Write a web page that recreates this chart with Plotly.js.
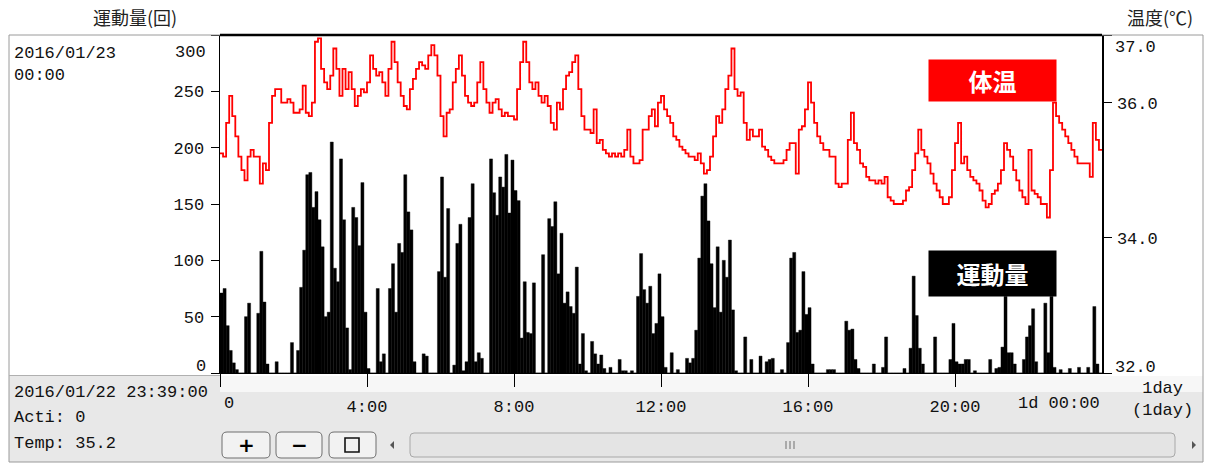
<!DOCTYPE html>
<html><head><meta charset="utf-8">
<script src="https://cdn.plot.ly/plotly-3.0.1.min.js"></script>
<style>html,body{margin:0;padding:0;background:#fff;overflow:hidden}#chart{width:1209px;height:464px}</style>
</head><body><div id="chart"></div>
<script>
// ---- data ----
const STEP_MIN = 5; // sampling interval, minutes
const activity = [
71,75,42,20,9,3,0,0,50,62, 0,0,53,108,63,8,0,0,10,0,
0,0,0,27,0,20,76,109,176,178, 147,161,136,112,50,54,205,93,81,190,
136,40,3,147,138,113,169,54,4,0, 0,75,10,17,0,75,97,54,115,107,
176,143,127,10,0,0,17,15,0,0, 0,90,174,85,146,0,7,115,132,2,
10,138,168,10,18,13,0,0,190,160, 140,174,165,194,142,189,162,153,31,81,
36,35,80,0,0,105,0,137,130,152, 88,124,62,72,59,53,94,8,35,2,
0,28,17,8,16,4,0,5,0,0, 12,2,2,0,2,0,68,106,74,62,
77,35,44,88,50,5,0,18,0,3, 0,0,13,9,13,38,102,157,168,135,
97,58,112,54,100,85,118,56,2,0, 0,32,0,12,0,0,15,0,10,12,
13,0,0,3,0,27,102,107,36,38, 90,52,58,8,0,0,0,0,3,3,
3,0,0,0,46,38,39,12,4,0, 0,0,0,8,0,0,5,32,0,0,
0,0,0,4,0,22,86,51,22,8, 0,0,0,32,0,0,0,0,12,44,
10,8,8,12,12,0,2,0,0,0, 0,12,0,4,5,23,68,18,18,8,
0,0,12,32,42,57,10,0,0,62, 18,68,5,0,3,0,0,4,0,0,
5,0,0,5,0,59,8,0
];
const temperature = [
35.25,35.2,35.7,36.1,35.8,35.5,35.2,35.0,34.85,35.2,
35.3,35.2,35.2,34.8,35.1,35.0,35.7,36.1,36.2,36.2,
36.0,36.0,36.05,36.0,35.85,35.85,35.9,36.25,35.85,35.8,
36.0,36.9,36.95,36.5,36.3,36.2,36.4,36.8,36.5,36.1,
36.5,36.2,36.45,36.2,35.95,36.1,36.2,36.15,36.3,36.7,
36.5,36.4,36.45,36.3,36.1,36.5,36.9,36.6,36.3,36.1,
35.95,35.9,36.2,36.35,36.5,36.6,36.55,36.5,36.7,36.85,
36.7,36.4,35.8,35.5,35.85,35.9,36.3,36.5,36.7,36.4,
36.1,36.0,35.95,36.0,36.3,36.6,36.2,36.0,35.85,36.0,
36.05,35.9,35.8,35.85,35.8,35.8,35.75,36.2,36.6,36.9,
36.6,36.3,36.2,36.3,36.1,36.0,36.1,35.95,35.7,35.6,
36.0,35.9,36.2,36.4,36.45,36.6,36.7,36.2,35.8,35.6,
35.6,35.55,35.9,35.4,35.45,35.3,35.25,35.2,35.25,35.2,
35.25,35.2,35.3,35.6,35.2,35.1,35.1,35.15,35.6,35.6,
35.8,35.9,35.65,36.0,36.1,35.9,35.8,35.7,35.5,35.45,
35.35,35.3,35.25,35.2,35.2,35.15,35.25,35.1,34.95,35.0,
35.2,35.5,35.8,35.7,35.9,36.2,36.4,36.8,36.2,36.1,
36.15,35.7,35.45,35.6,35.5,35.5,35.6,35.35,35.3,35.2,
35.15,35.1,35.1,35.1,35.15,35.3,35.4,35.4,34.95,35.6,
35.65,35.9,36.3,36.0,35.7,35.5,35.4,35.3,35.3,35.2,
35.2,34.8,34.75,34.8,34.8,35.45,35.85,35.4,35.3,35.1,
35.05,34.9,34.85,34.85,34.8,34.85,34.8,34.9,34.6,34.55,
34.5,34.5,34.5,34.55,34.7,34.75,35.0,35.25,35.6,35.3,
35.2,35.1,34.95,34.8,34.7,34.6,34.5,34.5,34.6,35.0,
35.4,35.7,35.1,35.2,35.0,34.9,34.85,34.8,34.7,34.55,
34.45,34.5,34.65,34.7,34.8,35.0,35.4,35.3,35.2,35.0,
34.85,34.7,34.6,34.5,35.3,34.7,34.65,34.6,34.5,34.5,
34.3,35.0,36.0,35.8,35.7,35.6,35.5,35.4,35.3,35.2,
35.1,35.1,35.1,35.1,34.9,35.7,35.45,35.3,35.3
];
const xTickVals = [0,240,480,720,960,1200];
const xTickText = ['', '4:00', '8:00', '12:00', '16:00', '20:00'];
const actTickVals = [0,50,100,150,200,250,300];
const actTickText = ['', '50', '100', '150', '200', '250', ''];
const tempTickVals = [32,34,36,37];
const tempTickText = ['', '34.0', '36.0', ''];
const actTitle = '運動量(回)';
const tempTitle = '温度(℃)';
const legendTemp = '体温';
const legendAct = '運動量';
const dateTop = '2016/01/23<br>00:00';
const cursorTime = '2016/01/22 23:39:00';
const cursorActi = 'Acti: 0';
const cursorTemp = 'Temp: 35.2';
const endLabel = '1d 00:00';
const spanLabel = '1day<br>(1day)';

// ---- build ----
const actX = activity.map((_, i) => i * STEP_MIN + STEP_MIN / 2);
const tempX = temperature.map((_, i) => i * STEP_MIN);

// pixel -> paper helpers (plot area: x 220..1102, y 35..373)
const L = 220, R = 1102, T = 35, B = 373;
const px = x => (x - L) / (R - L);
const py = y => (B - y) / (B - T);
function rect(x0, y0, x1, y1, fill, line, lw, layer) {
  return {type:'rect', xref:'paper', yref:'paper', x0:px(x0), x1:px(x1), y0:py(y1), y1:py(y0),
    fillcolor:fill, line:{color:line||'rgba(0,0,0,0)', width:lw||0}, layer:layer||'below'};
}
function lineS(x0, y0, x1, y1, color, w, layer) {
  return {type:'line', xref:'paper', yref:'paper', x0:px(x0), x1:px(x1), y0:py(y0), y1:py(y1),
    line:{color:color, width:w}, layer:layer||'above'};
}
function rrect(x0, y0, x1, y1, r, fill, line) {
  const X = v => px(v), Y = v => py(v);
  const p = `M ${X(x0+r)} ${Y(y0)} L ${X(x1-r)} ${Y(y0)} Q ${X(x1)} ${Y(y0)} ${X(x1)} ${Y(y0+r)} ` +
    `L ${X(x1)} ${Y(y1-r)} Q ${X(x1)} ${Y(y1)} ${X(x1-r)} ${Y(y1)} L ${X(x0+r)} ${Y(y1)} ` +
    `Q ${X(x0)} ${Y(y1)} ${X(x0)} ${Y(y1-r)} L ${X(x0)} ${Y(y0+r)} Q ${X(x0)} ${Y(y0)} ${X(x0+r)} ${Y(y0)} Z`;
  return {type:'path', xref:'paper', yref:'paper', path:p, fillcolor:fill, line:{color:line, width:1}, layer:'above'};
}
const MONO = '"Liberation Mono", "DejaVu Sans Mono", monospace';
const CJK = '"Noto Sans CJK JP", sans-serif';
function txt(x, y, text, opts) {
  return Object.assign({xref:'paper', yref:'paper', x:px(x), y:py(y), text:text, showarrow:false,
    xanchor:'left', yanchor:'middle', align:'left', font:{family:MONO, size:17, color:'#111'}}, opts||{});
}

const shapes = [
  // bottom grey panel
  rect(9, 376, 1203, 462, '#e8e8e8'),
  rect(220, 376, 1203, 392, '#f7f7f7'),
  // frame
  lineS(9, 35, 220, 35, '#9a9a9a', 1),
  lineS(1102, 35, 1203, 35, '#9a9a9a', 1),
  lineS(9, 35, 9, 462, '#9a9a9a', 1),
  lineS(1203, 35, 1203, 462, '#9a9a9a', 1),
  lineS(9, 462, 1203, 462, '#9a9a9a', 1),
  lineS(9, 375.5, 220, 375.5, '#b0b0b0', 1),
  lineS(220, 35, 1102, 35, '#000', 2.5),
  // buttons
  rrect(222, 432, 270, 458, 5, '#f2f2f2', '#6e6e6e'),
  rrect(276, 432, 322, 458, 5, '#f2f2f2', '#6e6e6e'),
  rrect(329, 432, 376, 458, 5, '#f2f2f2', '#6e6e6e'),
  rect(345, 438, 359, 452, 'rgba(0,0,0,0)', '#111', 1.6, 'above'),
  // scrollbar
  rrect(410, 433, 1175, 457, 4, '#e4e4e4', '#a8a8a8'),
  lineS(786, 441, 786, 449, '#707070', 1),
  lineS(790, 441, 790, 449, '#707070', 1),
  lineS(794, 441, 794, 449, '#707070', 1),
  {type:'path', xref:'paper', yref:'paper', fillcolor:'#555', line:{width:0}, layer:'above',
   path:`M ${px(390)} ${py(445)} L ${px(394)} ${py(441)} L ${px(394)} ${py(449)} Z`},
  {type:'path', xref:'paper', yref:'paper', fillcolor:'#555', line:{width:0}, layer:'above',
   path:`M ${px(1196)} ${py(445)} L ${px(1192)} ${py(441)} L ${px(1192)} ${py(449)} Z`}
];

const annotations = [
  txt(135, 17, actTitle, {xanchor:'center', font:{family:CJK, size:18, color:'#222'}}),
  txt(1160, 17, tempTitle, {xanchor:'center', font:{family:CJK, size:18, color:'#222'}}),
  txt(12, 64, dateTop),
  txt(208, 52, '300', {xanchor:'right'}),
  txt(208, 366, '0', {xanchor:'right'}),
  txt(1113, 48, '37.0'),
  txt(1113, 367, '32.0'),
  txt(222, 403, '0'),
  txt(1102, 403, endLabel, {xanchor:'right'}),
  txt(1162, 399, spanLabel, {xanchor:'center', align:'center'}),
  txt(12, 392, cursorTime),
  txt(12, 418, cursorActi),
  txt(12, 443, cursorTemp),
  txt(246, 445, '<b>+</b>', {xanchor:'center', font:{family:'DejaVu Sans', size:20, color:'#000'}}),
  txt(299, 445, '<b>−</b>', {xanchor:'center', font:{family:'DejaVu Sans', size:20, color:'#000'}}),
  {xref:'paper', yref:'paper', x:px(992.5), y:py(80.5), text:'<b>'+legendTemp+'</b>', showarrow:false,
   xanchor:'center', yanchor:'middle', width:127, height:41, bgcolor:'#ff0000', borderpad:0,
   font:{family:CJK, size:24, color:'#fff'}},
  {xref:'paper', yref:'paper', x:px(992.5), y:py(273.5), text:'<b>'+legendAct+'</b>', showarrow:false,
   xanchor:'center', yanchor:'middle', width:127, height:45, bgcolor:'#000000', borderpad:0,
   font:{family:CJK, size:24, color:'#fff'}}
];

const traces = [
  {type:'bar', x:actX, y:activity, marker:{color:'#000', line:{width:0.4, color:'#000'}}, yaxis:'y', hoverinfo:'skip'},
  {type:'scatter', mode:'lines', x:tempX, y:temperature, line:{color:'#ff0000', width:1.8, shape:'hv'},
   yaxis:'y2', hoverinfo:'skip'}
];

const layout = {
  width:1209, height:464,
  margin:{l:L, r:1209-R, t:T, b:464-B, pad:0},
  paper_bgcolor:'#ffffff', plot_bgcolor:'#ffffff',
  showlegend:false, bargap:0,
  font:{family:MONO, size:17, color:'#111'},
  xaxis:{range:[0,1440], tickvals:xTickVals, ticktext:xTickText, ticks:'outside', ticklen:13,
    tickcolor:'#000', tickwidth:1, showgrid:false, zeroline:false, showline:true, linecolor:'#000',
    linewidth:1, ticklabelstandoff:5, tickfont:{family:MONO, size:17, color:'#111'}, fixedrange:true},
  yaxis:{range:[0,300], tickvals:actTickVals, ticktext:actTickText, ticks:'outside', ticklen:8,
    tickcolor:'#000', showgrid:false, zeroline:false, showline:true, linecolor:'#000', linewidth:1.5,
    ticklabelstandoff:3, tickfont:{family:MONO, size:17, color:'#111'}, fixedrange:true},
  yaxis2:{range:[32,37], overlaying:'y', side:'right', tickvals:tempTickVals, ticktext:tempTickText,
    ticks:'outside', ticklen:8, tickcolor:'#000', showgrid:false, zeroline:false, showline:true,
    linecolor:'#000', linewidth:1.5, ticklabelstandoff:2, tickfont:{family:MONO, size:17, color:'#111'},
    fixedrange:true},
  shapes:shapes, annotations:annotations
};
Plotly.newPlot('chart', traces, layout, {staticPlot:true, displayModeBar:false});
</script></body></html>
